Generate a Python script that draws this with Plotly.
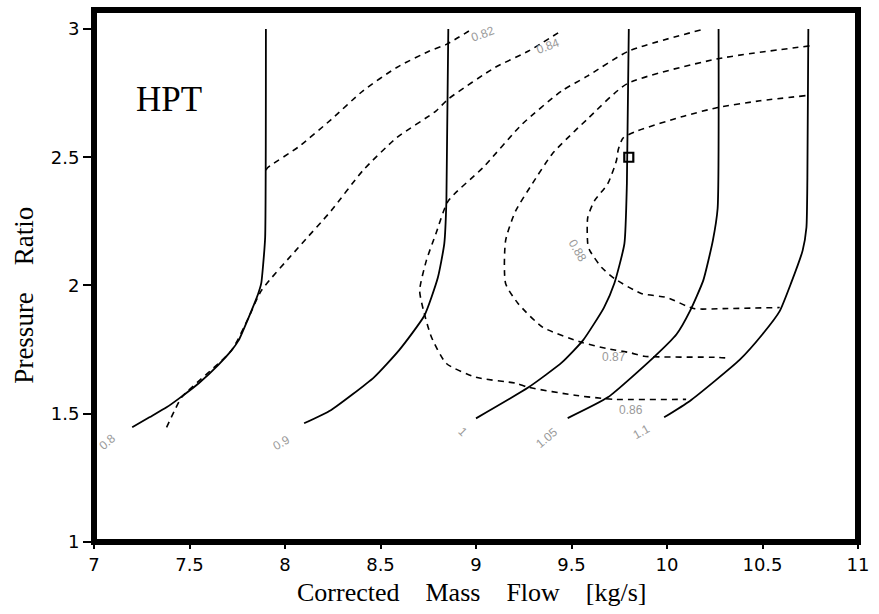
import plotly.graph_objects as go

# ---------------- data ----------------
speed_labels = ["0.8", "0.9", "1", "1.05", "1.1"]

n08_x = [7.20, 7.29, 7.38, 7.446, 7.55, 7.65, 7.72, 7.757, 7.81, 7.86, 7.876, 7.886, 7.896, 7.90]
n08_y = [1.447, 1.486, 1.525, 1.56, 1.62, 1.69, 1.747, 1.786, 1.876, 1.969, 2.01, 2.085, 2.187, 3.0]

n09_x = [8.10, 8.24, 8.466, 8.60, 8.73, 8.80, 8.834, 8.845, 8.855]
n09_y = [1.463, 1.514, 1.642, 1.75, 1.883, 2.03, 2.163, 2.33, 3.0]

n10_x = [9.00, 9.275, 9.45, 9.56, 9.67, 9.725, 9.777, 9.79, 9.80]
n10_y = [1.482, 1.603, 1.70, 1.786, 1.914, 2.01, 2.163, 2.397, 3.0]

n105_x = [9.48, 9.69, 9.93, 10.05, 10.12, 10.19, 10.24, 10.265, 10.27]
n105_y = [1.483, 1.564, 1.72, 1.81, 1.90, 2.02, 2.175, 2.30, 3.0]

n11_x = [9.985, 10.12, 10.38, 10.50, 10.59, 10.65, 10.71, 10.73, 10.735, 10.74]
n11_y = [1.486, 1.55, 1.71, 1.81, 1.90, 2.01, 2.136, 2.226, 2.42, 3.0]

speed_x = [n08_x, n09_x, n10_x, n105_x, n11_x]
speed_y = [n08_y, n09_y, n10_y, n105_y, n11_y]
speed_label_x = [7.07, 7.98, 8.93, 9.37, 9.865]
speed_label_y = [1.389, 1.385, 1.428, 1.405, 1.428]
speed_label_angle = [-40, -30, 45, -40, -30]

eff_labels = ["0.82", "0.84", "0.86", "0.87", "0.88"]

e82_x = [7.90, 7.91, 8.07, 8.24, 8.41, 8.585, 8.756, 8.845, 8.98]
e82_y = [2.45, 2.46, 2.54, 2.646, 2.76, 2.85, 2.914, 2.94, 3.0]

e84_x = [7.38, 7.42, 7.46, 7.72, 7.81, 7.876, 8.07, 8.24, 8.41, 8.585, 8.79, 8.855, 9.10, 9.275, 9.43]
e84_y = [1.447, 1.51, 1.565, 1.747, 1.876, 1.98, 2.148, 2.29, 2.45, 2.576, 2.68, 2.727, 2.85, 2.914, 2.985]

e86_x = [10.176, 9.80, 9.585, 9.45, 9.243, 9.036, 8.855, 8.79, 8.74, 8.705, 8.725, 8.767,
         8.845, 9.0, 9.207, 9.275, 9.518, 9.658, 9.725, 10.10]
e86_y = [2.996, 2.914, 2.817, 2.759, 2.63, 2.459, 2.33, 2.202, 2.097, 1.98, 1.903, 1.798,
         1.696, 1.642, 1.619, 1.603, 1.572, 1.56, 1.556, 1.556]

e87_x = [10.746, 10.26, 9.79, 9.585, 9.518, 9.40, 9.295, 9.207, 9.155, 9.155, 9.22, 9.35,
         9.555, 9.68, 9.813, 9.88, 10.26, 10.33]
e87_y = [2.934, 2.883, 2.786, 2.65, 2.603, 2.514, 2.397, 2.29, 2.175, 2.008, 1.93, 1.837,
         1.778, 1.755, 1.737, 1.724, 1.72, 1.716]

e88_x = [10.725, 10.487, 10.26, 10.088, 9.845, 9.77, 9.745, 9.735, 9.69, 9.62, 9.585, 9.585,
         9.596, 9.658, 9.725, 9.865, 10.0, 10.14, 10.295, 10.59]
e88_y = [2.74, 2.72, 2.693, 2.66, 2.603, 2.575, 2.53, 2.486, 2.397, 2.33, 2.265, 2.163,
         2.136, 2.07, 2.027, 1.969, 1.953, 1.91, 1.91, 1.914]

eff_x = [e82_x, e84_x, e86_x, e87_x, e88_x]
eff_y = [e82_y, e84_y, e86_y, e87_y, e88_y]
eff_label_x = [9.036, 9.378, 9.81, 9.725, 9.534]
eff_label_y = [2.98, 2.934, 1.514, 1.72, 2.136]
eff_label_angle = [-20, -20, 0, 0, 60]

design_x = [9.80]
design_y = [2.50]

x_ticks = [7, 7.5, 8, 8.5, 9, 9.5, 10, 10.5, 11]
y_ticks = [1, 1.5, 2, 2.5, 3]

# ---------------- figure ----------------
fig = go.Figure()

for xs, ys in zip(eff_x, eff_y):
    fig.add_trace(go.Scatter(x=xs, y=ys, mode="lines",
                             line=dict(color="black", width=1.6, dash="6px,5px",
                                       shape="spline", smoothing=0.6),
                             hoverinfo="skip", showlegend=False))

for xs, ys in zip(speed_x, speed_y):
    fig.add_trace(go.Scatter(x=xs, y=ys, mode="lines",
                             line=dict(color="black", width=1.8, shape="spline", smoothing=0.5),
                             hoverinfo="skip", showlegend=False))

fig.add_trace(go.Scatter(x=design_x, y=design_y, mode="markers",
                         marker=dict(symbol="square-open", size=9, color="black",
                                     line=dict(width=2.2, color="black")),
                         showlegend=False))

annotations = []
for lab, lx, ly, ang in zip(speed_labels, speed_label_x, speed_label_y, speed_label_angle):
    annotations.append(dict(x=lx, y=ly, xref="x", yref="y", text=lab, showarrow=False,
                            textangle=ang, font=dict(family="Liberation Sans", size=12, color="#9a9a9a")))
for lab, lx, ly, ang in zip(eff_labels, eff_label_x, eff_label_y, eff_label_angle):
    annotations.append(dict(x=lx, y=ly, xref="x", yref="y", text=lab, showarrow=False,
                            textangle=ang, font=dict(family="Liberation Sans", size=12, color="#9a9a9a")))

annotations.append(dict(x=7.394, y=2.724, xref="x", yref="y", text="HPT", showarrow=False,
                        font=dict(family="Liberation Serif", size=35, color="black")))

sp = "\u00a0\u00a0\u00a0\u00a0"
annotations.append(dict(x=0.495, y=-0.094, xref="paper", yref="paper",
                        text="Corrected" + sp + "Mass" + sp + "Flow" + sp + "[kg/s]",
                        showarrow=False, xanchor="center", yanchor="middle",
                        font=dict(family="Liberation Serif", size=26, color="black")))
annotations.append(dict(x=-0.091, y=0.464, xref="paper", yref="paper",
                        text="Pressure" + sp + "Ratio", textangle=-90,
                        showarrow=False, xanchor="center", yanchor="middle",
                        font=dict(family="Liberation Serif", size=27, color="black")))

fig.update_layout(
    width=879, height=614, autosize=False,
    margin=dict(l=94, r=13, t=10, b=72),
    paper_bgcolor="white", plot_bgcolor="white",
    annotations=annotations,
    shapes=[dict(type="rect", xref="paper", yref="paper", x0=0, x1=1, y0=0, y1=1,
                 line=dict(color="black", width=6), layer="above")],
)
fig.update_xaxes(range=[7, 11], tickvals=x_ticks, ticks="outside", ticklen=6, tickwidth=1.5,
                 tickcolor="black", showgrid=False, zeroline=False, showline=False,
                 tickfont=dict(family="DejaVu Sans", size=18, color="black"))
fig.update_yaxes(range=[1, 3.074], tickvals=y_ticks, ticks="outside", ticklen=10, tickwidth=1.5,
                 tickcolor="black", showgrid=False, zeroline=False, showline=False,
                 tickfont=dict(family="DejaVu Sans", size=18, color="black"))

fig.write_html("out.html")
